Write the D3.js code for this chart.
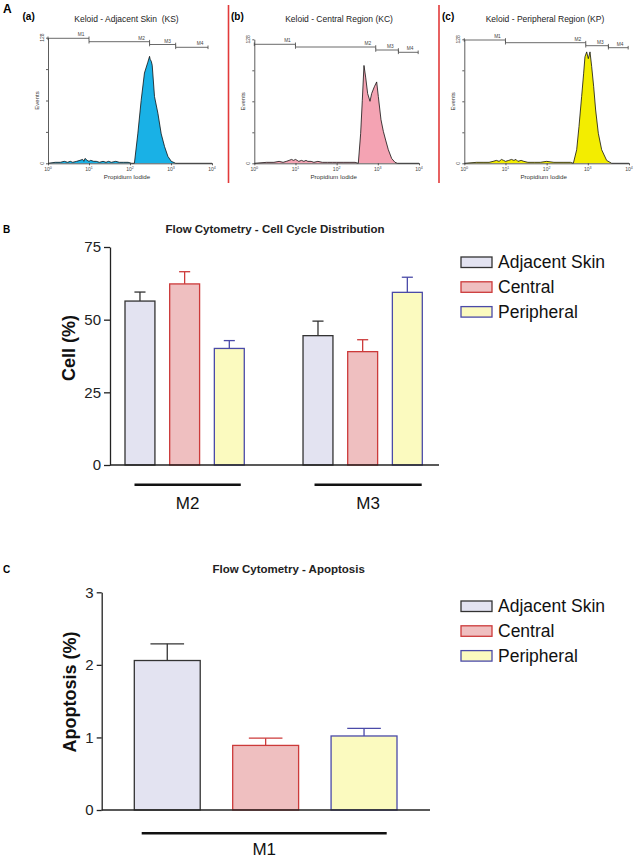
<!DOCTYPE html>
<html><head><meta charset="utf-8">
<script src="https://cdn.jsdelivr.net/npm/d3@7"></script>
<style>body{margin:0;background:#fff}svg{display:block;font-family:"Liberation Sans",Arial,sans-serif}</style>
</head><body><svg id="c" width="638" height="865"></svg>
<script>
// ---------------- DATA ----------------
const seriesNames = ["Adjacent Skin", "Central", "Peripheral"];

// Panel B: cell cycle distribution (%), mean and error
const cycleGroups = ["M2", "M3"];
const cycleAdjacent = [56.4, 44.5];
const cycleCentral = [62.3, 39.0];
const cyclePeripheral = [40.1, 59.4];
const cycleAdjacentErr = [3.1, 5.0];
const cycleCentralErr = [4.2, 4.1];
const cyclePeripheralErr = [2.7, 5.2];
const cycleTicks = [0, 25, 50, 75];

// Panel C: apoptosis (%)
const apoGroups = ["M1"];
const apoAdjacent = [2.06];
const apoCentral = [0.89];
const apoPeripheral = [1.02];
const apoAdjacentErr = [0.23];
const apoCentralErr = [0.10];
const apoPeripheralErr = [0.105];
const apoTicks = [0, 1, 2, 3];

// Panel A: histograms [propidium iodide intensity, events]
const histKS = [[1,0],[1.5,1],[2,1],[2.5,2],[3,1],[3.5,2],[4,1],[5,2],[6,3],[7,4],[7.5,2],[8,5],[9,3],[10,2],[11,3],[13,2],[15,2],[18,1],[22,2],[26,1],[30,2],[35,1],[45,2],[55,1],[70,1],[90,1],[110,0],[128,0],[155,30],[187,64],[225,92],[272,103],[300,109],[310,106],[330,104],[348,100],[396,68],[479,51],[577,30],[697,17],[841,7],[1016,2],[1300,0],[10000,0]];
const histKC = [[1,0],[2,1],[3,1],[4,2],[5,1],[6,2],[7,3],[8,4],[9,3],[10,4],[11,3],[12,2],[14,3],[16,2],[18,3],[20,2],[24,2],[28,1],[35,2],[45,1],[60,1],[80,1],[100,1],[150,1],[200,1],[280,1],[336,0],[383,31],[420,65],[461,101],[506,89],[566,72],[646,64],[708,72],[822,79],[938,84],[1028,69],[1194,45],[1361,33],[1549,24],[1799,14],[2168,5],[2612,1],[3000,0],[10000,0]];
const histKP = [[1,0],[2,1],[3,1],[4,1],[5,2],[6,3],[7,2],[8,4],[9,3],[10,2],[12,3],[14,4],[16,3],[18,4],[20,2],[24,3],[28,2],[35,1],[50,1],[70,1],[100,2],[150,1],[250,1],[380,1],[445,0],[536,14],[610,38],[708,69],[792,93],[853,110],[938,115],[1028,108],[1130,115],[1239,100],[1387,79],[1549,55],[1799,31],[2168,14],[2864,3],[3793,0],[10000,0]];
const gatesKS = [1, 10, 300, 1300, 8000];
const gatesKC = [1, 10, 890, 3160, 9550];
const gatesKP = [1, 10, 890, 3160, 9550];
const histTitles = ["Keloid - Adjacent Skin  (KS)", "Keloid - Central Region (KC)", "Keloid - Peripheral Region (KP)"];
const histLetters = ["(a)", "(b)", "(c)"];
const histXTicks = [1, 10, 100, 1000, 10000];

// ---------------- STYLE ----------------
const fills = ["#e3e3f1", "#efbfc0", "#fbfabf"];
const strokes = ["#333333", "#cc3a3a", "#4a4aa8"];
const F = '"Liberation Sans", Arial, sans-serif';

const svg = d3.select("#c");

// ---------------- PANEL A ----------------
svg.append("text").attr("x", 3).attr("y", 13).attr("font-size", 12).attr("font-weight", "bold").text("A");

function drawHist(cfg) {
  const g = svg.append("g");
  const x = d3.scaleLog().domain([1, 10000]).range([cfg.x0, cfg.x1]);
  const y = d3.scaleLinear().domain([0, 128]).range([cfg.yb, cfg.yt]);
  const area = d3.area().x(d => x(d[0])).y0(y(0)).y1(d => y(d[1]));
  const line = d3.line().x(d => x(d[0])).y(d => y(d[1]));
  g.append("path").datum(cfg.data).attr("d", area).attr("fill", cfg.color);
  g.append("path").datum(cfg.data).attr("d", line).attr("fill", "none")
    .attr("stroke", "#111").attr("stroke-width", 0.8).attr("stroke-linejoin", "round");

  const xa = g.append("g").attr("transform", `translate(0,${cfg.yb})`)
    .call(d3.axisBottom(x).tickValues(histXTicks).tickSize(2).tickSizeOuter(0).tickFormat(""));
  const ya = g.append("g").attr("transform", `translate(${cfg.x0},0)`)
    .call(d3.axisLeft(y).tickValues([0, 32, 64, 96, 128]).tickSize(2).tickSizeOuter(0).tickFormat(""));
  [xa, ya].forEach(a => { a.selectAll("path,line").attr("stroke", "#333").attr("stroke-width", 0.8); });

  // x tick labels 10^n
  histXTicks.forEach((t, i) => {
    const tx = g.append("text").attr("x", x(t)).attr("y", cfg.yb + 7.5).attr("text-anchor", "middle")
      .attr("font-size", 5).attr("fill", "#444");
    tx.append("tspan").text("10");
    tx.append("tspan").attr("dy", -2.2).attr("font-size", 3.6).text(String(i));
  });
  // y labels
  [[128, "128"], [0, "0"]].forEach(([v, s]) => {
    g.append("text").attr("transform", `translate(${cfg.x0 - 4},${y(v)}) rotate(-90)`)
      .attr("text-anchor", "middle").attr("font-size", 5).attr("fill", "#444").text(s);
  });
  g.append("text").attr("transform", `translate(${cfg.x0 - 9},${(cfg.yb + cfg.yt) / 2}) rotate(-90)`)
    .attr("text-anchor", "middle").attr("font-size", 6).attr("fill", "#333").text("Events");
  g.append("text").attr("x", (cfg.x0 + cfg.x1) / 2 - 3).attr("y", cfg.yb + 16).attr("text-anchor", "middle")
    .attr("font-size", 6.2).attr("fill", "#333").text("Propidium Iodide");

  // gates
  for (let i = 0; i < cfg.gates.length - 1; i++) {
    const a = x(cfg.gates[i]), b = x(cfg.gates[i + 1]), gy = cfg.gy[i];
    g.append("line").attr("x1", a).attr("x2", b).attr("y1", gy).attr("y2", gy).attr("stroke", "#444").attr("stroke-width", 0.8);
    [a, b].forEach(px => g.append("line").attr("x1", px).attr("x2", px).attr("y1", gy - 1.8).attr("y2", gy + 1.8)
      .attr("stroke", "#444").attr("stroke-width", 0.8));
    g.append("text").attr("x", b - 8).attr("y", gy - 2).attr("text-anchor", "middle")
      .attr("font-size", 4.8).attr("fill", "#444").text("M" + (i + 1));
  }
  // title & letter
  g.append("text").attr("x", cfg.tx).attr("y", 22).attr("text-anchor", "middle").attr("font-size", 8.5)
    .style("white-space", "pre").attr("fill", "#222").text(cfg.title);
  g.append("text").attr("x", cfg.lx).attr("y", 20).attr("font-size", 10).attr("font-weight", "bold").text(cfg.letter);
}

drawHist({ data: histKS, gates: gatesKS, gy: [38.3, 41.7, 44.5, 47.3], color: "#19b1e6", x0: 48, x1: 212, yt: 37.7, yb: 163.3, tx: 126.5, lx: 22.5, title: histTitles[0], letter: histLetters[0] });
drawHist({ data: histKC, gates: gatesKC, gy: [44.3, 47, 50, 52.3], color: "#f4a3b3", x0: 254.3, x1: 419, yt: 39.3, yb: 163.3, tx: 339, lx: 231, title: histTitles[1], letter: histLetters[1] });
drawHist({ data: histKP, gates: gatesKP, gy: [40, 42.7, 45.7, 47.7], color: "#f3ed00", x0: 464.3, x1: 629, yt: 39.3, yb: 163.3, tx: 545, lx: 442, title: histTitles[2], letter: histLetters[2] });

// red separators
[228.5, 439].forEach(px => svg.append("line").attr("x1", px).attr("x2", px).attr("y1", 5).attr("y2", 183)
  .attr("stroke", "#e23a3a").attr("stroke-width", 1.6));

// ---------------- BAR CHARTS ----------------
function drawBars(cfg) {
  const g = svg.append("g");
  const y = d3.scaleLinear().domain([cfg.ticks[0], cfg.ticks[cfg.ticks.length - 1]]).range([cfg.yb, cfg.yt]);
  const xg = d3.scaleBand().domain(cfg.groups).range([cfg.bx0, cfg.bx1])
    .paddingInner(cfg.groups.length > 1 ? 0.33 : 0).paddingOuter(0);
  const xs = d3.scaleBand().domain(seriesNames).range([0, xg.bandwidth()]).paddingInner(0.33).paddingOuter(0);

  const rows = [];
  cfg.groups.forEach((grp, gi) => {
    seriesNames.forEach((s, si) => rows.push({ grp, s, si, v: cfg.means[si][gi], e: cfg.errs[si][gi] }));
  });

  // error bars (behind bars)
  rows.forEach(d => {
    const cx = xg(d.grp) + xs(d.s) + xs.bandwidth() / 2;
    const cw = cfg.capFrac * xs.bandwidth();
    g.append("line").attr("x1", cx).attr("x2", cx).attr("y1", y(d.v)).attr("y2", y(d.v + d.e))
      .attr("stroke", strokes[d.si]).attr("stroke-width", 1.3);
    g.append("line").attr("x1", cx - cw / 2).attr("x2", cx + cw / 2).attr("y1", y(d.v + d.e)).attr("y2", y(d.v + d.e))
      .attr("stroke", strokes[d.si]).attr("stroke-width", 1.3);
  });
  g.selectAll("rect.bar").data(rows).join("rect").attr("class", "bar")
    .attr("x", d => xg(d.grp) + xs(d.s)).attr("width", xs.bandwidth())
    .attr("y", d => y(d.v)).attr("height", d => y(0) - y(d.v))
    .attr("fill", d => fills[d.si]).attr("stroke", d => strokes[d.si]).attr("stroke-width", 1.3);

  // y axis
  const ya = g.append("g").attr("transform", `translate(${cfg.ax},0)`)
    .call(d3.axisLeft(y).tickValues(cfg.ticks).tickSize(cfg.tickLen).tickSizeOuter(0).tickPadding(3).tickFormat(d3.format("d")));
  ya.selectAll("path,line").attr("stroke", "#222").attr("stroke-width", 1.3);
  ya.selectAll("text").attr("font-size", 15).attr("font-family", F).attr("fill", "#222");
  // x axis line
  g.append("line").attr("x1", cfg.ax).attr("x2", cfg.axEnd).attr("y1", y(0)).attr("y2", y(0))
    .attr("stroke", "#222").attr("stroke-width", 1.3);

  // group underline and label
  cfg.groups.forEach((grp, gi) => {
    const a = xg(grp) + cfg.lineInset[gi][0], b = xg(grp) + xg.bandwidth() - cfg.lineInset[gi][1];
    g.append("line").attr("x1", a).attr("x2", b).attr("y1", cfg.lineY).attr("y2", cfg.lineY)
      .attr("stroke", "#111").attr("stroke-width", 2.6);
    g.append("text").attr("x", (a + b) / 2).attr("y", cfg.labY).attr("text-anchor", "middle")
      .attr("font-size", 17).attr("fill", "#111").text(grp);
  });

  // y label
  g.append("text").attr("transform", `translate(${cfg.ylx},${cfg.yly}) rotate(-90)`)
    .attr("text-anchor", "middle").attr("font-size", 18).attr("font-weight", "bold").attr("fill", "#111")
    .text(cfg.ylabel);
  // title
  g.append("text").attr("x", cfg.tx).attr("y", cfg.ty).attr("text-anchor", "middle")
    .attr("font-size", 11.5).attr("font-weight", "bold").attr("fill", "#222").text(cfg.title);
  g.append("text").attr("x", 3).attr("y", cfg.ty).attr("font-size", 10).attr("font-weight", "bold").text(cfg.letter);

  // legend
  const lg = g.append("g");
  seriesNames.forEach((s, i) => {
    const ry = cfg.legY + i * 24.8;
    lg.append("rect").attr("x", 461).attr("y", ry).attr("width", 31).attr("height", 10.5)
      .attr("fill", fills[i]).attr("stroke", strokes[i]).attr("stroke-width", 1.3);
    lg.append("text").attr("x", 498).attr("y", ry + 11).attr("font-size", 17.5).attr("fill", "#111").text(s);
  });
}

drawBars({
  groups: cycleGroups, ticks: cycleTicks,
  means: [cycleAdjacent, cycleCentral, cyclePeripheral],
  errs: [cycleAdjacentErr, cycleCentralErr, cyclePeripheralErr],
  yb: 465, yt: 247, bx0: 125, bx1: 422.3, ax: 110, axEnd: 439, tickLen: 6, capFrac: 0.37,
  lineY: 484.7, labY: 509, lineInset: [[9.5, 3.5], [11.5, 0.6]],
  ylx: 75, yly: 348, ylabel: "Cell (%)", tx: 275, ty: 232.5, title: "Flow Cytometry - Cell Cycle Distribution", letter: "B",
  legY: 257
});
drawBars({
  groups: apoGroups, ticks: apoTicks,
  means: [apoAdjacent, apoCentral, apoPeripheral],
  errs: [apoAdjacentErr, apoCentralErr, apoPeripheralErr],
  yb: 810, yt: 592.3, bx0: 134.3, bx1: 397, ax: 101.7, axEnd: 430, tickLen: 5, capFrac: 0.51,
  lineY: 833.3, labY: 855, lineInset: [[7.4, 10.3]],
  ylx: 76, yly: 692, ylabel: "Apoptosis (%)", tx: 288.7, ty: 573, title: "Flow Cytometry - Apoptosis", letter: "C",
  legY: 601
});
</script></body></html>
